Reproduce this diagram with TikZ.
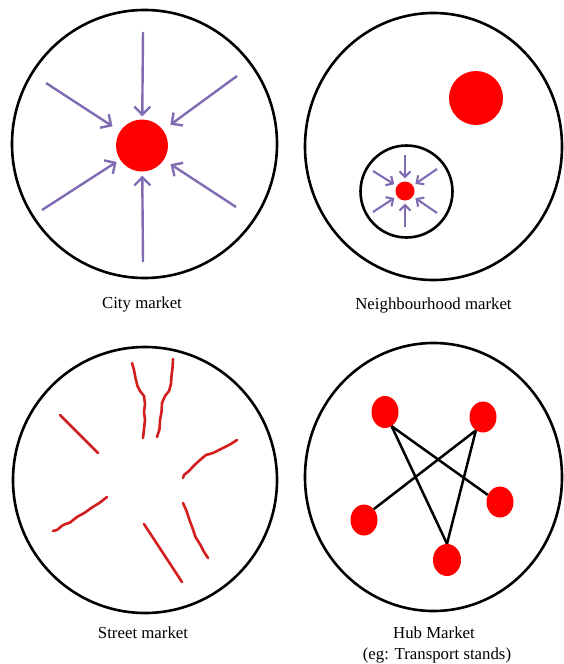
\documentclass[tikz,border=0pt]{standalone}
\usepackage{fontspec}
\setmainfont{Liberation Serif}
\usetikzlibrary{arrows.meta,shapes.geometric}
\definecolor{arrpurple}{RGB}{128,108,178}
\definecolor{streetred}{RGB}{212,30,30}
\definecolor{dotred}{RGB}{255,0,0}
\tikzset{
  frame/.style={draw=black,line width=2.6pt},
  bigarr/.style={draw=arrpurple,line width=2.4pt,-{Straight Barb[length=8pt,width=16pt,line width=2.4pt]},shorten >=4pt},
  smallarr/.style={draw=arrpurple,line width=2.1pt,-{Straight Barb[length=5.5pt,width=11pt,line width=2.1pt]},shorten >=3pt},
  reddot/.style={circle,fill=dotred,inner sep=0pt},
  hubdot/.style={ellipse,fill=dotred,inner sep=0pt,minimum width=27pt,minimum height=31pt},
  street/.style={draw=streetred,line width=2.6pt,line cap=round,line join=round},
  hubline/.style={draw=black,line width=2.5pt},
  lbl/.style={font=\fontsize{16.8}{21}\selectfont,inner sep=0pt,anchor=base}
}
\begin{document}
\begin{tikzpicture}[x=1pt,y=-1pt]
\useasboundingbox (0,0) rectangle (563,664);
\fill[white] (0,0) rectangle (563,664);

% ---------- City market ----------
\draw[frame] (144.5,144) ellipse [x radius=132.5, y radius=134];
\node[reddot,minimum size=52pt] (cdot) at (142,145.5) {};
\coordinate (ct) at (143,32);
\coordinate (cb) at (143,262);
\coordinate (cul) at (46,83);
\coordinate (cur) at (237,76);
\coordinate (cll) at (42,210);
\coordinate (clr) at (236,207);
\draw[bigarr,shorten >=3pt] (ct) -- (cdot);
\draw[bigarr] (cb) -- (cdot);
\draw[bigarr,shorten >=9pt] (cul) -- (cdot);
\draw[bigarr,shorten >=9pt] (cur) -- (cdot);
\draw[bigarr] (cll) -- (cdot);
\draw[bigarr,shorten >=8pt] (clr) -- (cdot);
\node[lbl] (lcity) at (142,308) {City market};

% ---------- Neighbourhood market ----------
\draw[frame] (433.5,146.5) ellipse [x radius=128.5, y radius=133.5];
\node[reddot,minimum size=54pt] (ndot) at (476,98) {};
\draw[frame] (406.5,191.5) circle [radius=46];
\node[reddot,minimum size=19pt] (sdot) at (405,191) {};
\coordinate (nt) at (405,155);
\coordinate (nb) at (405,227);
\coordinate (nul) at (373,171);
\coordinate (nur) at (437,169);
\coordinate (nll) at (373,212);
\coordinate (nlr) at (437,213);
\draw[smallarr] (nt) -- (sdot);
\draw[smallarr] (nb) -- (sdot);
\draw[smallarr] (nul) -- (sdot);
\draw[smallarr] (nur) -- (sdot);
\draw[smallarr] (nll) -- (sdot);
\draw[smallarr] (nlr) -- (sdot);
\node[lbl] (lneigh) at (433.5,309) {Neighbourhood market};

% ---------- Street market ----------
\draw[frame] (145,480) ellipse [x radius=132, y radius=133];
\draw[street] (60,415) -- (98,453);
\draw[street] (132,363) -- (134,370) -- (135.5,378) -- (137.5,386) -- (140,391) -- (144,396) -- (145,404) -- (144,412) -- (145,420) -- (144,429) -- (143,438);
\draw[street] (173,359) -- (172.5,368) -- (171.5,376) -- (171,384) -- (169,391) -- (165,396) -- (162,403) -- (161.5,412) -- (160,420) -- (159.5,429) -- (157,437);
\draw[street] (237,440) -- (230,444.5) -- (222,448.5) -- (213,453) -- (206,455) -- (200,460) -- (194,465.5) -- (189,471) -- (184,475) -- (183,478);
\draw[street] (107,497) -- (100,502.5) -- (92,507.5) -- (85,512.5) -- (77,517) -- (70,522.5) -- (63,525) -- (57,530) -- (53,531);
\draw[street] (183,503) -- (186.5,511) -- (189.5,520) -- (192.5,528) -- (195.5,537) -- (200.5,545) -- (203.5,551) -- (208,558);
\draw[street] (144,524) -- (182,582);
\node[lbl] (lstreet) at (143,638) {Street market};

% ---------- Hub market ----------
\draw[frame] (433.5,477) ellipse [x radius=128.5, y radius=134];
\node[hubdot,minimum height=32pt] (hA) at (385,412) {};
\node[hubdot] (hB) at (483,417) {};
\node[hubdot] (hC) at (500,502) {};
\node[hubdot] (hD) at (364,520) {};
\node[hubdot,minimum width=28pt,minimum height=32pt] (hE) at (447,560) {};
\draw[hubline] (hA.-65) -- (hC.150);
\draw[hubline] (hA.-65) -- (hE.90);
\draw[hubline] (hB.-118) -- (hD.48);
\draw[hubline] (hB.-118) -- (hE.90);
\node[lbl] (lhub) at (434,638) {Hub Market};
\node[lbl] (lhub2) at (437,659) {(eg: Transport stands)};
\end{tikzpicture}
\end{document}
